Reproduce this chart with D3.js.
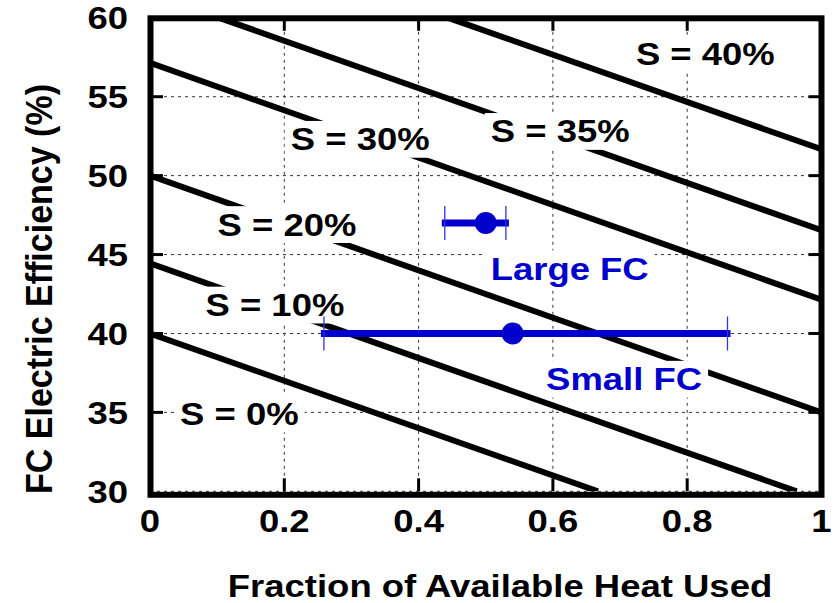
<!DOCTYPE html>
<html>
<head>
<meta charset="utf-8">
<script src="https://cdn.jsdelivr.net/npm/d3@7"></script>
<style>
  html, body { margin: 0; padding: 0; background: #fff; }
  svg { display: block; }
  text { font-family: "Liberation Sans", Arial, Helvetica, sans-serif; font-weight: bold; }
</style>
</head>
<body>
<svg id="chart" width="835" height="603"></svg>
<script>
// Axis ticks
const xTicks = [0, 0.2, 0.4, 0.6, 0.8, 1];
const yTicks = [30, 35, 40, 45, 50, 55, 60];
const xTickLabels = ["0", "0.2", "0.4", "0.6", "0.8", "1"];
const yTickLabels = ["30", "35", "40", "45", "50", "55", "60"];

// Constant-savings lines: savings level and the two end points [x, efficiency]
const savingsLevels = [0, 10, 20, 30, 35, 40];
const savingsStart = [[0, 40], [0, 44.44], [0, 50], [0, 57.14], [0.103, 60], [0.444, 60]];
const savingsEnd = [[0.667, 30], [0.963, 30], [1, 35], [1, 42.14], [1, 46.54], [1, 51.67]];
// Label anchor for each savings line (centre x, baseline y)
const savingsLabelPos = [[0.133, 34.2], [0.186, 41.1], [0.204, 46.2], [0.313, 51.6], [0.611, 52.1], [0.827, 57.0]];

// Fuel-cell operating points with range of heat use
const fcNames = ["Large FC", "Small FC"];
const fcHeat = [0.50, 0.54];
const fcEff = [47, 40];
const fcHeatLow = [0.439, 0.259];
const fcHeatHigh = [0.530, 0.860];
const fcLabelPos = [[0.625, 43.4], [0.706, 36.4]];

const svg = d3.select("#chart");
const x = d3.scaleLinear().domain([0, 1]).range([150, 821.5]);
const y = d3.scaleLinear().domain([30, 60]).range([491.3, 17.8]);

const FS = 32, SX = 1.14;
const blue = "#0000cc";

// grid
const grid = svg.append("g");
grid.selectAll("line.gx").data(xTicks.slice(1, -1)).join("line")
  .attr("x1", d => x(d)).attr("x2", d => x(d))
  .attr("y1", y(60)).attr("y2", y(30))
  .attr("stroke", "#333").attr("stroke-width", 1).attr("stroke-dasharray", "3,4");
grid.selectAll("line.gy").data(yTicks.slice(0, -1)).join("line")
  .attr("x1", x(0)).attr("x2", x(1))
  .attr("y1", d => y(d)).attr("y2", d => y(d))
  .attr("stroke", "#333").attr("stroke-width", 1).attr("stroke-dasharray", "3,4");

// savings lines
const clipId = "plotclip";
svg.append("clipPath").attr("id", clipId).append("rect")
  .attr("x", x(0)).attr("y", y(60)).attr("width", x(1) - x(0)).attr("height", y(30) - y(60));
const lineGen = d3.line().x(d => x(d[0])).y(d => y(d[1]));
svg.append("g").attr("clip-path", `url(#${clipId})`)
  .selectAll("path").data(savingsLevels.map((s, i) => [savingsStart[i], savingsEnd[i]])).join("path")
  .attr("d", lineGen).attr("fill", "none").attr("stroke", "#000").attr("stroke-width", 6);

// label helper: horizontally stretched bold text
function label(g, txt, px, py, color) {
  const t = g.append("text")
    .attr("transform", `translate(${px},${py}) scale(${SX},1)`)
    .attr("text-anchor", "middle").attr("font-size", FS).attr("fill", color).text(txt);
  return t;
}

// savings labels with white backing boxes
const labG = svg.append("g");
savingsLevels.forEach((s, i) => {
  const px = x(savingsLabelPos[i][0]), py = y(savingsLabelPos[i][1]);
  const g = labG.append("g");
  const rect = g.append("rect").attr("fill", "#fff");
  const t = label(g, `S = ${s}%`, px, py, "#000");
  const bb = t.node().getBBox();
  const w = bb.width * SX;
  rect.attr("x", px - w / 2 - 6).attr("y", py - FS * 0.92).attr("width", w + 12).attr("height", FS * 1.15);
});

// fuel cell points
const fcG = svg.append("g");
fcNames.forEach((n, i) => {
  const cy = y(fcEff[i]);
  fcG.append("line").attr("x1", x(fcHeatLow[i]) - 3).attr("x2", x(fcHeatHigh[i]) + 3)
    .attr("y1", cy).attr("y2", cy).attr("stroke", blue).attr("stroke-width", 7);
  [fcHeatLow[i], fcHeatHigh[i]].forEach(v => {
    fcG.append("line").attr("x1", x(v)).attr("x2", x(v)).attr("y1", cy - 17).attr("y2", cy + 17)
      .attr("stroke", "#3333dd").attr("stroke-width", 1.3);
  });
  fcG.append("circle").attr("cx", x(fcHeat[i])).attr("cy", cy).attr("r", 11).attr("fill", blue);
  const px = x(fcLabelPos[i][0]), py = y(fcLabelPos[i][1]);
  const g = fcG.append("g");
  const rect = g.append("rect").attr("fill", "#fff");
  const t = label(g, n, px, py, blue);
  const w = t.node().getBBox().width * SX;
  rect.attr("x", px - w / 2 - 6).attr("y", py - FS * 0.92).attr("width", w + 12).attr("height", FS * 1.15);
});

// ticks (inward, on all four sides)
const tk = svg.append("g").attr("stroke", "#000").attr("stroke-width", 3);
xTicks.slice(1, -1).forEach(v => {
  tk.append("line").attr("x1", x(v)).attr("x2", x(v)).attr("y1", y(30)).attr("y2", y(30) - 13);
  tk.append("line").attr("x1", x(v)).attr("x2", x(v)).attr("y1", y(60)).attr("y2", y(60) + 13);
});
yTicks.slice(1, -1).forEach(v => {
  tk.append("line").attr("x1", x(0)).attr("x2", x(0) + 13).attr("y1", y(v)).attr("y2", y(v));
  tk.append("line").attr("x1", x(1)).attr("x2", x(1) - 13).attr("y1", y(v)).attr("y2", y(v));
});

// frame
svg.append("rect").attr("x", x(0) + 0.5).attr("y", y(60) + 0.5)
  .attr("width", x(1) - x(0) - 0.5).attr("height", y(30) - y(60) + 3)
  .attr("fill", "none").attr("stroke", "#000").attr("stroke-width", 6);

// tick labels
const tl = svg.append("g");
xTicks.forEach((v, i) => {
  label(tl, xTickLabels[i], x(v), 532, "#000");
});
yTicks.forEach((v, i) => {
  tl.append("text").attr("transform", `translate(128,${y(v) + 11.5}) scale(${SX},1)`)
    .attr("text-anchor", "end").attr("font-size", FS).text(yTickLabels[i]);
});

// axis titles
label(svg, "Fraction of Available Heat Used", 500, 597, "#000");
svg.append("text").attr("transform", `translate(52,289) scale(1.1,1) rotate(-90)`)
  .attr("text-anchor", "middle").attr("font-size", 34).text("FC Electric Efficiency (%)");
</script>
</body>
</html>
